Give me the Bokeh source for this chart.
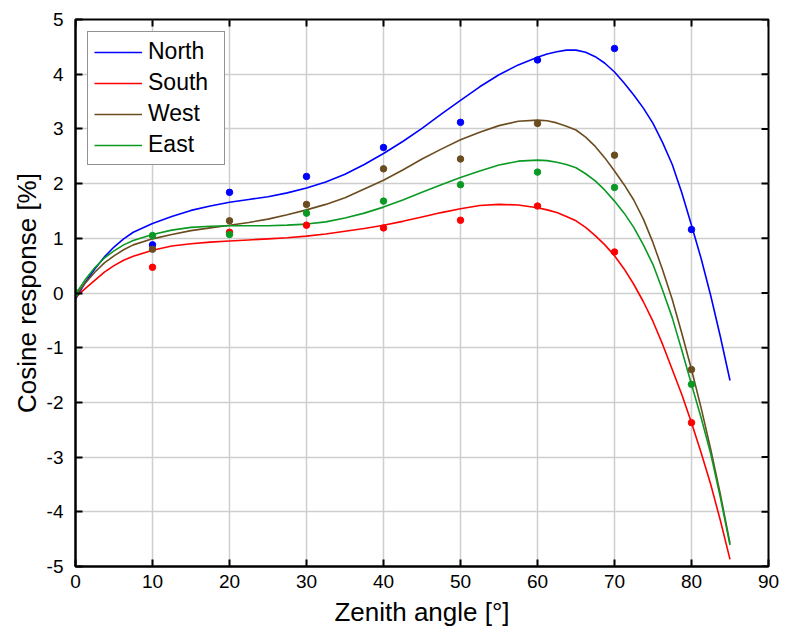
from bokeh.plotting import figure
from bokeh.models import Legend, LegendItem, FixedTicker, PrintfTickFormatter
from bokeh.embed import file_html
from bokeh.resources import INLINE
import math

# measured points
angles = [0, 10, 20, 30, 40, 50, 60, 70, 80]
north = [0, 0.88, 1.84, 2.13, 2.66, 3.12, 4.26, 4.47, 1.16]
south = [0, 0.47, 1.11, 1.24, 1.19, 1.33, 1.59, 0.75, -2.37]
west = [0, 0.80, 1.32, 1.62, 2.27, 2.45, 3.10, 2.52, -1.40]
east = [0, 1.05, 1.07, 1.46, 1.68, 1.98, 2.21, 1.93, -1.67]

# fitted curves
fit_x = [0, 1.25, 2.5, 3.75, 5, 6.25,
         7.5, 10, 12.5, 15, 17.5, 20, 22.5, 25, 27.5, 30, 32.5, 35, 37.5, 40, 42.5,
         45, 47.5, 50, 52.5, 55, 57.5, 60,
         61.25, 62.5, 63.75, 65, 66.25, 67.5, 68.75, 70, 71.25, 72.5, 73.75, 75,
         76.25, 77.5, 78.75, 80, 81.25, 82.5, 83.75, 85]
north_fit = [-0.11, 0.19, 0.44, 0.66, 0.84, 0.99,
             1.11, 1.27, 1.40, 1.51, 1.59, 1.66, 1.71, 1.76, 1.83, 1.92, 2.03, 2.17,
             2.35, 2.55, 2.77, 3.01, 3.27, 3.52, 3.77, 3.99, 4.17, 4.31,
             4.37, 4.41, 4.44, 4.44, 4.40, 4.32, 4.20, 4.04, 3.84, 3.62, 3.38, 3.10,
             2.75, 2.35, 1.83, 1.24, 0.63, -0.05, -0.80, -1.60]
south_fit = [-0.08, 0.08, 0.23, 0.38, 0.50, 0.60,
             0.67, 0.78, 0.86, 0.90, 0.93, 0.95, 0.97, 0.99, 1.01, 1.04, 1.08, 1.13,
             1.18, 1.24, 1.31, 1.39, 1.47, 1.54, 1.60, 1.62, 1.61, 1.56,
             1.52, 1.47, 1.40, 1.32, 1.20, 1.05, 0.88, 0.68, 0.44, 0.16, -0.16, -0.52,
             -0.94, -1.40, -1.86, -2.37, -2.92, -3.50, -4.16, -4.87]
west_fit = [-0.05, 0.18, 0.38, 0.55, 0.68, 0.79,
            0.88, 0.99, 1.07, 1.14, 1.19, 1.24, 1.29, 1.35, 1.43, 1.52, 1.62, 1.74,
            1.90, 2.06, 2.25, 2.45, 2.63, 2.80, 2.94, 3.06, 3.14, 3.16,
            3.15, 3.11, 3.05, 2.98, 2.85, 2.68, 2.47, 2.23, 1.98, 1.70, 1.35, 0.92,
            0.42, -0.12, -0.74, -1.40, -2.10, -2.86, -3.68, -4.58]
east_fit = [-0.02, 0.24, 0.46, 0.64, 0.77, 0.88,
            0.96, 1.07, 1.15, 1.20, 1.22, 1.23, 1.23, 1.23, 1.24, 1.26, 1.30, 1.37,
            1.46, 1.57, 1.70, 1.84, 1.98, 2.11, 2.23, 2.34, 2.41, 2.43,
            2.42, 2.39, 2.35, 2.29, 2.18, 2.05, 1.88, 1.68, 1.46, 1.20, 0.88, 0.52,
            0.05, -0.45, -1.05, -1.67, -2.28, -2.94, -3.74, -4.61]

names = ["North", "South", "West", "East"]
colors = ["#0000ff", "#ff0000", "#6b4c1f", "#0a9a24"]
x_ticks = [0, 10, 20, 30, 40, 50, 60, 70, 80, 90]
y_ticks = [-5, -4, -3, -2, -1, 0, 1, 2, 3, 4, 5]
X_MIN, X_MAX = 0, 90
Y_MIN, Y_MAX = -5, 5

FONT = "Liberation Sans"

p = figure(width=785, height=637, x_range=(X_MIN, X_MAX), y_range=(Y_MIN, Y_MAX),
           output_backend="svg", toolbar_location=None,
           min_border_left=75, min_border_right=17, min_border_top=19,
           min_border_bottom=71, background_fill_color="white",
           border_fill_color="white")

p.xaxis.ticker = FixedTicker(ticks=x_ticks)
p.yaxis.ticker = FixedTicker(ticks=y_ticks)
p.xgrid.ticker = FixedTicker(ticks=x_ticks)
p.ygrid.ticker = FixedTicker(ticks=y_ticks)
for g in (p.xgrid, p.ygrid):
    g.grid_line_color = "#cecece"
    g.grid_line_width = 1.5

p.xaxis.axis_label = "Zenith angle [°]"
p.yaxis.axis_label = "Cosine response [%]"

for ax in p.xaxis + p.yaxis:
    ax.formatter = PrintfTickFormatter(format="%d")
    ax.axis_line_width = 2
    ax.axis_line_color = "black"
    ax.major_tick_in = 7
    ax.major_tick_out = 0
    ax.major_tick_line_width = 2
    ax.major_tick_line_color = "black"
    ax.minor_tick_line_color = None
    ax.major_label_text_font = FONT
    ax.major_label_text_font_size = "19px"
    ax.major_label_text_color = "black"
    ax.axis_label_text_font = FONT
    ax.axis_label_text_font_size = "26px"
    ax.axis_label_text_font_style = "normal"
    ax.axis_label_text_color = "black"
p.xaxis.major_label_standoff = 8
p.yaxis.major_label_standoff = 12
p.xaxis.axis_label_standoff = 6
p.yaxis.axis_label_standoff = 2

p.outline_line_color = "black"
p.outline_line_width = 2
p.outline_line_alpha = 1

# inward ticks on the top and right edges (half of each dash is clipped by the frame)
p.scatter(x_ticks, [Y_MAX] * len(x_ticks), marker="dash", size=14, angle=math.pi / 2,
          line_color="black", line_width=2)
p.scatter([X_MAX] * len(y_ticks), y_ticks, marker="dash", size=14,
          line_color="black", line_width=2)

fits = [north_fit, south_fit, west_fit, east_fit]
pts = [north, south, west, east]
items = []
for name, col, fy in zip(names, colors, fits):
    r = p.line(fit_x, fy, line_color=col, line_width=1.6, line_join="round")
    items.append(LegendItem(label=name, renderers=[r]))
for col, py in zip(colors, pts):
    p.scatter(angles, py, size=6.5, fill_color=col, line_color=col, marker="circle")

legend = Legend(items=items, location="top_left", margin=12)
legend.label_text_font = FONT
legend.label_text_font_size = "23px"
legend.label_text_color = "black"
legend.label_height = 22
legend.glyph_height = 22
legend.glyph_width = 48
legend.label_width = 70
legend.label_standoff = 6
legend.spacing = 4
legend.padding = 6
legend.border_line_color = "#262626"
legend.border_line_width = 1.5
legend.background_fill_color = "white"
legend.background_fill_alpha = 1
p.add_layout(legend, "center")

open("out.html", "w").write(file_html(p, INLINE))
